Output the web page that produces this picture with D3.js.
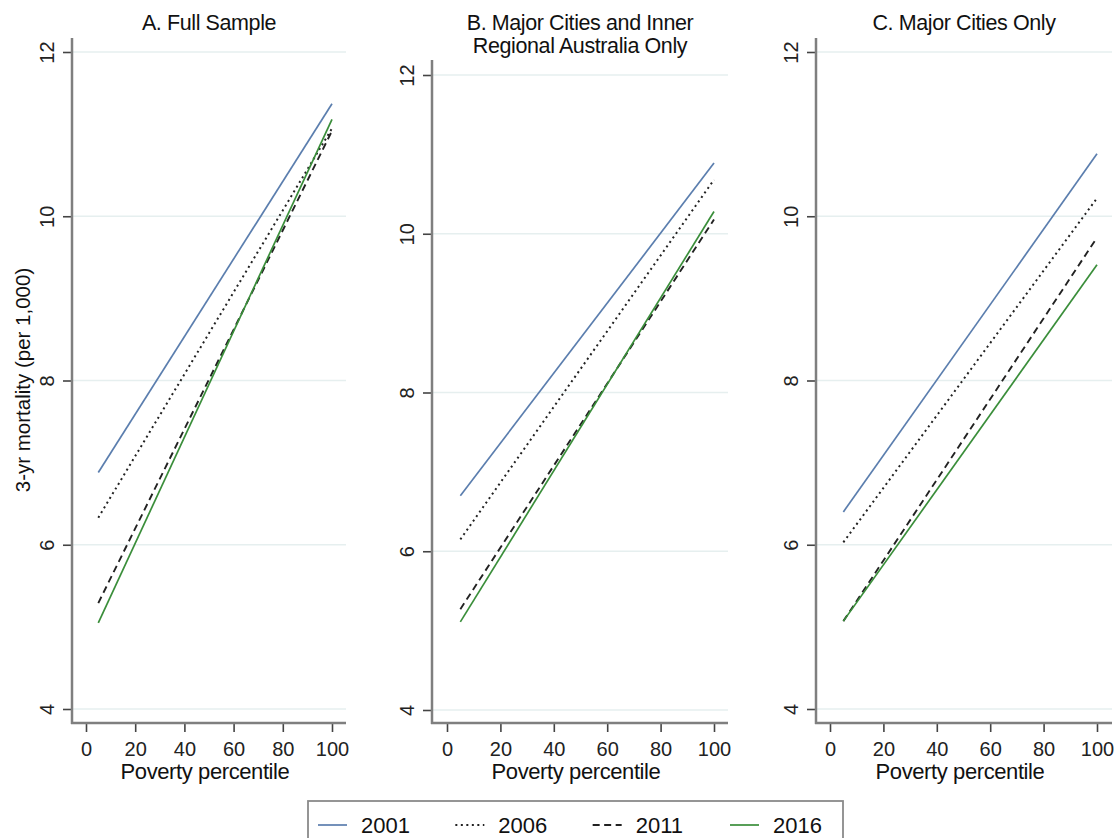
<!DOCTYPE html>
<html>
<head>
<meta charset="utf-8">
<script src="https://cdn.jsdelivr.net/npm/d3@7"></script>
<style>
  body { margin: 0; background: #fff; }
  svg { display: block; font-family: "Liberation Sans", Arial, sans-serif; }
</style>
</head>
<body>
<svg id="chart" width="1117" height="838"></svg>
<script>
// Data (values at poverty percentile 5 and 100)
const years = ["2001", "2006", "2011", "2016"];
const xEnds = [5, 100];
const xTicks = [0, 20, 40, 60, 80, 100];
const yTicks = [4, 6, 8, 10, 12];
const panelTitles = [
  ["A. Full Sample"],
  ["B. Major Cities and Inner", "Regional Australia Only"],
  ["C. Major Cities Only"]
];
const panelA = [[6.88, 11.37], [6.33, 11.07], [5.29, 11.04], [5.05, 11.18]];
const panelB = [[6.70, 10.89], [6.15, 10.68], [5.27, 10.18], [5.11, 10.28]];
const panelC = [[6.40, 10.76], [6.03, 10.22], [5.07, 9.74], [5.07, 9.41]];
const panelData = [panelA, panelB, panelC];

const yTitle = "3-yr mortality (per 1,000)";
const xTitle = "Poverty percentile";

// series styling
const styles = [
  { color: "#5b7eae", dash: null, width: 1.7 },
  { color: "#222222", dash: "2,3.5", width: 2 },
  { color: "#222222", dash: "7,4.5", width: 1.9 },
  { color: "#3a8e3a", dash: null, width: 1.7 }
];

// panel layout (pixel geometry)
const layout = [
  { x0: 86, x1: 332, left: 72, right: 346, y4: 709, y12: 52, top: 38 },
  { x0: 447, x1: 714, left: 432, right: 728, y4: 710, y12: 75, top: 60 },
  { x0: 830, x1: 1097, left: 816, right: 1112, y4: 709, y12: 52, top: 38 }
];
const axisY = 723;
const axisColor = "#7f7f7f";

const svg = d3.select("#chart");

layout.forEach((L, i) => {
  const g = svg.append("g");
  const x = d3.scaleLinear().domain([0, 100]).range([L.x0, L.x1]);
  const y = d3.scaleLinear().domain([4, 12]).range([L.y4, L.y12]);

  // gridlines
  g.selectAll(".grid")
    .data(yTicks)
    .enter()
    .append("line")
    .attr("x1", L.left).attr("x2", L.right)
    .attr("y1", d => y(d)).attr("y2", d => y(d))
    .attr("stroke", "#e6efef")
    .attr("stroke-width", 1.5);

  // series lines
  const line = d3.line().x(d => x(d[0])).y(d => y(d[1]));
  panelData[i].forEach((vals, s) => {
    g.append("path")
      .datum(xEnds.map((xv, k) => [xv, vals[k]]))
      .attr("d", line)
      .attr("fill", "none")
      .attr("stroke", styles[s].color)
      .attr("stroke-width", styles[s].width)
      .attr("stroke-dasharray", styles[s].dash);
  });

  // axes
  const xAxis = g.append("g")
    .attr("transform", `translate(0,${axisY})`)
    .call(d3.axisBottom(x).tickValues(xTicks).tickSize(9).tickPadding(10).tickSizeOuter(0));
  xAxis.select(".domain").remove();
  xAxis.selectAll(".tick line").attr("stroke", "#444").attr("stroke-width", 1.6);
  xAxis.selectAll(".tick text")
    .attr("font-size", 20)
    .attr("font-family", "Liberation Sans, Arial, sans-serif")
    .attr("fill", "#222");

  const yAxis = g.append("g")
    .attr("transform", `translate(${L.left},0)`)
    .call(d3.axisLeft(y).tickValues(yTicks).tickSize(9).tickSizeOuter(0).tickFormat(d3.format("d")));
  yAxis.select(".domain").remove();
  yAxis.selectAll(".tick line").attr("stroke", "#444").attr("stroke-width", 1.6);
  yAxis.selectAll(".tick text")
    .attr("x", null).attr("dy", null)
    .attr("transform", "translate(-18,0) rotate(-90)")
    .attr("text-anchor", "middle")
    .attr("font-size", 20)
    .attr("font-family", "Liberation Sans, Arial, sans-serif")
    .attr("fill", "#222");

  // axis lines
  g.append("line")
    .attr("x1", L.left).attr("x2", L.left)
    .attr("y1", L.top).attr("y2", axisY + 1)
    .attr("stroke", axisColor).attr("stroke-width", 2.5);
  g.append("line")
    .attr("x1", L.left - 1).attr("x2", L.right)
    .attr("y1", axisY).attr("y2", axisY)
    .attr("stroke", axisColor).attr("stroke-width", 2.5);

  // titles
  const cx = (L.left + L.right) / 2;
  panelTitles[i].forEach((t, k) => {
    g.append("text")
      .attr("x", cx).attr("y", 30 + k * 23)
      .attr("text-anchor", "middle")
      .attr("font-size", 21.5)
      .attr("letter-spacing", -0.4)
      .attr("fill", "#111")
      .text(t);
  });

  g.append("text")
    .attr("x", cx - 4).attr("y", 779)
    .attr("text-anchor", "middle")
    .attr("font-size", 22)
    .attr("letter-spacing", -0.4)
    .attr("fill", "#111")
    .text(xTitle);
});

// y axis title
svg.append("text")
  .attr("transform", "translate(30,380) rotate(-90)")
  .attr("text-anchor", "middle")
  .attr("font-size", 20.5)
  .attr("fill", "#111")
  .text(yTitle);

// legend
const legend = svg.append("g");
legend.append("rect")
  .attr("x", 308).attr("y", 801)
  .attr("width", 535).attr("height", 50)
  .attr("fill", "#fff")
  .attr("stroke", "#8a8a8a")
  .attr("stroke-width", 1.8);

const legX = d3.scalePoint().domain(years).range([318, 730]);
years.forEach((yr, s) => {
  const lx = legX(yr);
  legend.append("line")
    .attr("x1", lx).attr("x2", lx + 29)
    .attr("y1", 825).attr("y2", 825)
    .attr("stroke", styles[s].color)
    .attr("stroke-width", styles[s].width)
    .attr("stroke-dasharray", styles[s].dash);
  legend.append("text")
    .attr("x", lx + 43).attr("y", 833)
    .attr("font-size", 22)
    .attr("fill", "#111")
    .text(yr);
});
</script>
</body>
</html>
